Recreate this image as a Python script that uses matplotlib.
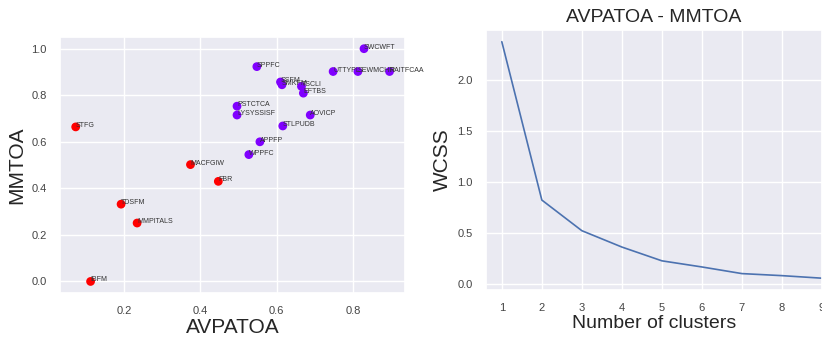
import matplotlib
matplotlib.use('Agg')
import matplotlib.pyplot as plt
import seaborn as sns

# scatter data: AVPATOA vs MMTOA, cluster 0 = purple, 1 = red
names = ['STFG', 'MACFGIW', 'FBR', 'TDSFM', 'MMPITALS', 'IBFM',
         'SWCWFT', 'SPPFC', 'UTTYPL', 'SEWMCHR', 'RAITFCAA', 'SSFM', 'SMKFM',
         'TSCLI', 'EFTBS', 'PSTCTCA', 'LYSYSSISF', 'AOVICP', 'STLPUDB',
         'APPFP', 'WPPFC']
avpatoa = [0.073, 0.374, 0.447, 0.192, 0.234, 0.112,
           0.829, 0.548, 0.748, 0.813, 0.896, 0.610, 0.614,
           0.665, 0.670, 0.496, 0.496, 0.688, 0.616,
           0.556, 0.527]
mmtoa = [0.664, 0.502, 0.430, 0.332, 0.251, 0.0,
         1.0, 0.923, 0.902, 0.902, 0.902, 0.857, 0.845,
         0.838, 0.809, 0.753, 0.715, 0.715, 0.668,
         0.600, 0.545]
cluster = [1, 1, 1, 1, 1, 1,
           0, 0, 0, 0, 0, 0, 0,
           0, 0, 0, 0, 0, 0,
           0, 0]

# elbow curve
n_clusters = [1, 2, 3, 4, 5, 6, 7, 8, 9]
wcss = [2.37, 0.82, 0.52, 0.36, 0.225, 0.165, 0.10, 0.08, 0.055]

sns.set_theme(style='darkgrid')
plt.rcParams['font.family'] = ['Liberation Sans', 'DejaVu Sans']

fig = plt.figure(figsize=(8.22, 3.40), dpi=100)
ax1 = fig.add_axes([0.073, 0.138, 0.420, 0.753])
ax2 = fig.add_axes([0.591, 0.147, 0.409, 0.765])

ax1.scatter(avpatoa, mmtoa, c=cluster, cmap='rainbow', s=28)
for name, x, y in zip(names, avpatoa, mmtoa):
    ax1.annotate(name, (x, y), fontsize=5, color='#333333')
ax1.set_xlabel('AVPATOA', fontsize=15, labelpad=1)
ax1.set_ylabel('MMTOA', fontsize=15)
ax1.tick_params(labelsize=8, colors='#444444')
ax1.set_xticks([0.2, 0.4, 0.6, 0.8])

ax2.plot(n_clusters, wcss, color='#4c72b0', linewidth=1.2)
ax2.set_title('AVPATOA - MMTOA', fontsize=14)
ax2.set_xlabel('Number of clusters', fontsize=14, labelpad=1)
ax2.set_ylabel('WCSS', fontsize=15)
ax2.set_xticks(n_clusters)
ax2.set_xlim(0.6, 9.0)
ax2.tick_params(labelsize=8, colors='#444444')

fig.savefig('out.png', dpi=100)
